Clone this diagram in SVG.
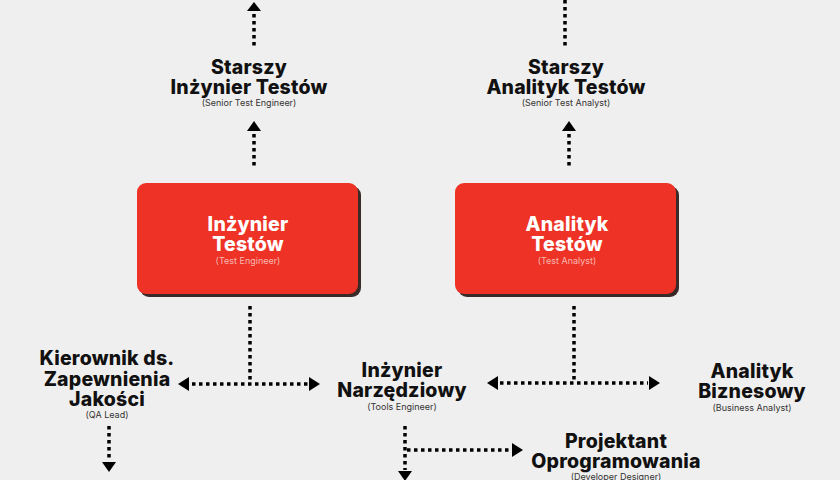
<svg xmlns="http://www.w3.org/2000/svg" width="840" height="480" viewBox="0 0 840 480">
<defs>
<style>
.t{font-family:Inter,"Open Sans","DejaVu Sans",sans-serif;font-weight:800;font-size:19.5px;letter-spacing:0.2px;fill:#111;text-anchor:middle}
.s{font-family:Inter,"Open Sans","DejaVu Sans",sans-serif;font-weight:400;font-size:9px;fill:#333;text-anchor:middle}
.w{fill:#fff}
.ws{fill:#f7b9b2}
.box{fill:#ee3226}
.sh{fill:#3a2a28}
.d{stroke:#000;stroke-width:3.5;stroke-dasharray:3.5 3.5;fill:none}
.ah{fill:#000}
</style>
</defs>
<rect width="840" height="480" fill="#f0efef"/>
<g id="connectors">
<line class="d" x1="254" y1="14" x2="254" y2="47"/>
<polygon class="ah" points="254,2 261,11 247,11"/>
<line class="d" x1="565" y1="0" x2="565" y2="47"/>
<line class="d" x1="254" y1="134" x2="254" y2="167"/>
<polygon class="ah" points="254,121 261,131 247,131"/>
<line class="d" x1="569" y1="134" x2="569" y2="167"/>
<polygon class="ah" points="569,121 576,131 562,131"/>
<line class="d" x1="250" y1="306" x2="250" y2="381"/>
<line class="d" x1="192" y1="384" x2="308" y2="384"/>
<polygon class="ah" points="178,384 189,377 189,391"/>
<polygon class="ah" points="320,384 309,377 309,391"/>
<line class="d" x1="574" y1="306" x2="574" y2="380"/>
<line class="d" x1="500" y1="383" x2="648" y2="383"/>
<polygon class="ah" points="487,383 498,376 498,390"/>
<polygon class="ah" points="660,383 649,376 649,390"/>
<line class="d" x1="109" y1="426" x2="109" y2="460"/>
<polygon class="ah" points="109,472 102,462 116,462"/>
<line class="d" x1="405" y1="426" x2="405" y2="470"/>
<polygon class="ah" points="405,481 398,471 412,471"/>
<line class="d" x1="407" y1="450" x2="511" y2="450"/>
<polygon class="ah" points="523,450 512,443 512,457"/>
</g>
<g id="senior-test-engineer">
<text class="t" x="249" y="74">Starszy</text>
<text class="t" x="249" y="94">Inżynier Testów</text>
<text class="s" x="249" y="106">(Senior Test Engineer)</text>
</g>
<g id="senior-test-analyst">
<text class="t" x="566" y="74">Starszy</text>
<text class="t" x="566" y="94">Analityk Testów</text>
<text class="s" x="566" y="106">(Senior Test Analyst)</text>
</g>
<g id="test-engineer">
<rect class="sh" x="140" y="186" width="221" height="111" rx="9"/>
<rect class="box" x="137" y="183" width="221" height="111" rx="9"/>
<text class="t w" x="248" y="231">Inżynier</text>
<text class="t w" x="248" y="251">Testów</text>
<text class="s ws" x="248" y="264">(Test Engineer)</text>
</g>
<g id="test-analyst">
<rect class="sh" x="458" y="186" width="221" height="111" rx="9"/>
<rect class="box" x="455" y="183" width="221" height="111" rx="9"/>
<text class="t w" x="567" y="231">Analityk</text>
<text class="t w" x="567" y="251">Testów</text>
<text class="s ws" x="567" y="264">(Test Analyst)</text>
</g>
<g id="qa-lead">
<text class="t" x="107" y="365">Kierownik ds.</text>
<text class="t" x="107" y="386">Zapewnienia</text>
<text class="t" x="107" y="406">Jakości</text>
<text class="s" x="107" y="418">(QA Lead)</text>
</g>
<g id="tools-engineer">
<text class="t" x="402" y="377">Inżynier</text>
<text class="t" x="402" y="397">Narzędziowy</text>
<text class="s" x="402" y="410">(Tools Engineer)</text>
</g>
<g id="business-analyst">
<text class="t" x="752" y="378">Analityk</text>
<text class="t" x="752" y="398">Biznesowy</text>
<text class="s" x="752" y="411">(Business Analyst)</text>
</g>
<g id="developer-designer">
<text class="t" x="616" y="448">Projektant</text>
<text class="t" x="616" y="468">Oprogramowania</text>
<text class="s" x="616" y="480">(Developer Designer)</text>
</g>
</svg>
